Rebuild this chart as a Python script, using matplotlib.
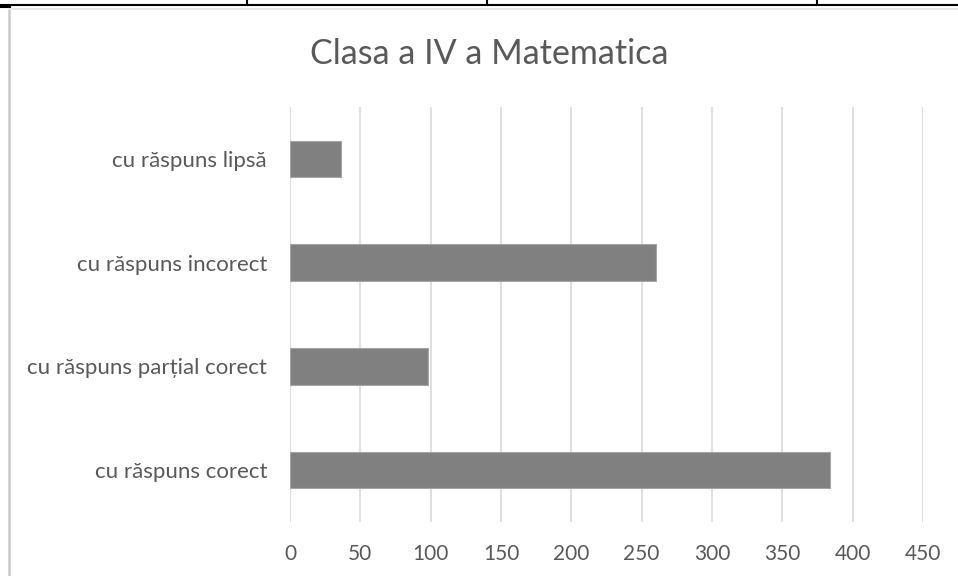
import matplotlib
matplotlib.use("Agg")
import matplotlib.pyplot as plt
from matplotlib.lines import Line2D

categories = ["cu răspuns corect", "cu răspuns parțial corect", "cu răspuns incorect", "cu răspuns lipsă"]
values = [384, 98, 260, 36]
xticks = [0, 50, 100, 150, 200, 250, 300, 350, 400, 450]
title = "Clasa a IV a Matematica"

plt.rcParams['font.family'] = ['Lato', 'DejaVu Sans']

W, H = 958, 576
fig = plt.figure(figsize=(W / 100, H / 100), dpi=100)
fig.patch.set_facecolor("white")

ax = fig.add_axes([290 / W, 1 - 522 / H, (923 - 290) / W, (522 - 107) / H])
ypos = list(range(len(categories)))
ax.barh(ypos, values, height=0.35, color="#808080", edgecolor="#a6a6a6", linewidth=0.8, zorder=3)
ax.set_xlim(0, 450)
ax.set_ylim(-0.5, len(categories) - 0.5)
ax.set_xticks(xticks)
ax.set_xticklabels([str(t) for t in xticks])
ax.set_yticks(ypos)
ax.set_yticklabels(categories)
ax.grid(axis="x", color="#d9d9d9", linewidth=1.2, zorder=0)
for s in ax.spines.values():
    s.set_visible(False)
ax.tick_params(axis="both", length=0, colors="#595959")
ax.tick_params(axis="x", pad=16, labelsize=15)
ax.tick_params(axis="y", pad=16.5, labelsize=16)
for lbl in ax.get_xticklabels() + ax.get_yticklabels():
    lbl.set_color("#595959")

fig.text(489 / W, 1 - 54 / H, title, ha="center", va="center", fontsize=24.5, color="#595959")

# document table borders
def fx(x):
    return x / W
def fy(y):
    return 1 - y / H
fig.add_artist(Line2D([0, 1], [fy(5), fy(5)], color="black", linewidth=1.5, transform=fig.transFigure))
for x in [247, 487, 817]:
    fig.add_artist(Line2D([fx(x), fx(x)], [fy(0), fy(5)], color="black", linewidth=1.5, transform=fig.transFigure))
fig.add_artist(Line2D([fx(0), fx(10)], [fy(6.5), fy(6.5)], color="black", linewidth=1.5, transform=fig.transFigure))
fig.add_artist(Line2D([fx(9), fx(9)], [fy(9), fy(576)], color="#c8c8c8", linewidth=1.8, transform=fig.transFigure))
fig.add_artist(Line2D([fx(9), 1], [fy(8.5), fy(8.5)], color="#e8e8e8", linewidth=1.5, transform=fig.transFigure))

fig.savefig("out.png", dpi=100, facecolor="white")
